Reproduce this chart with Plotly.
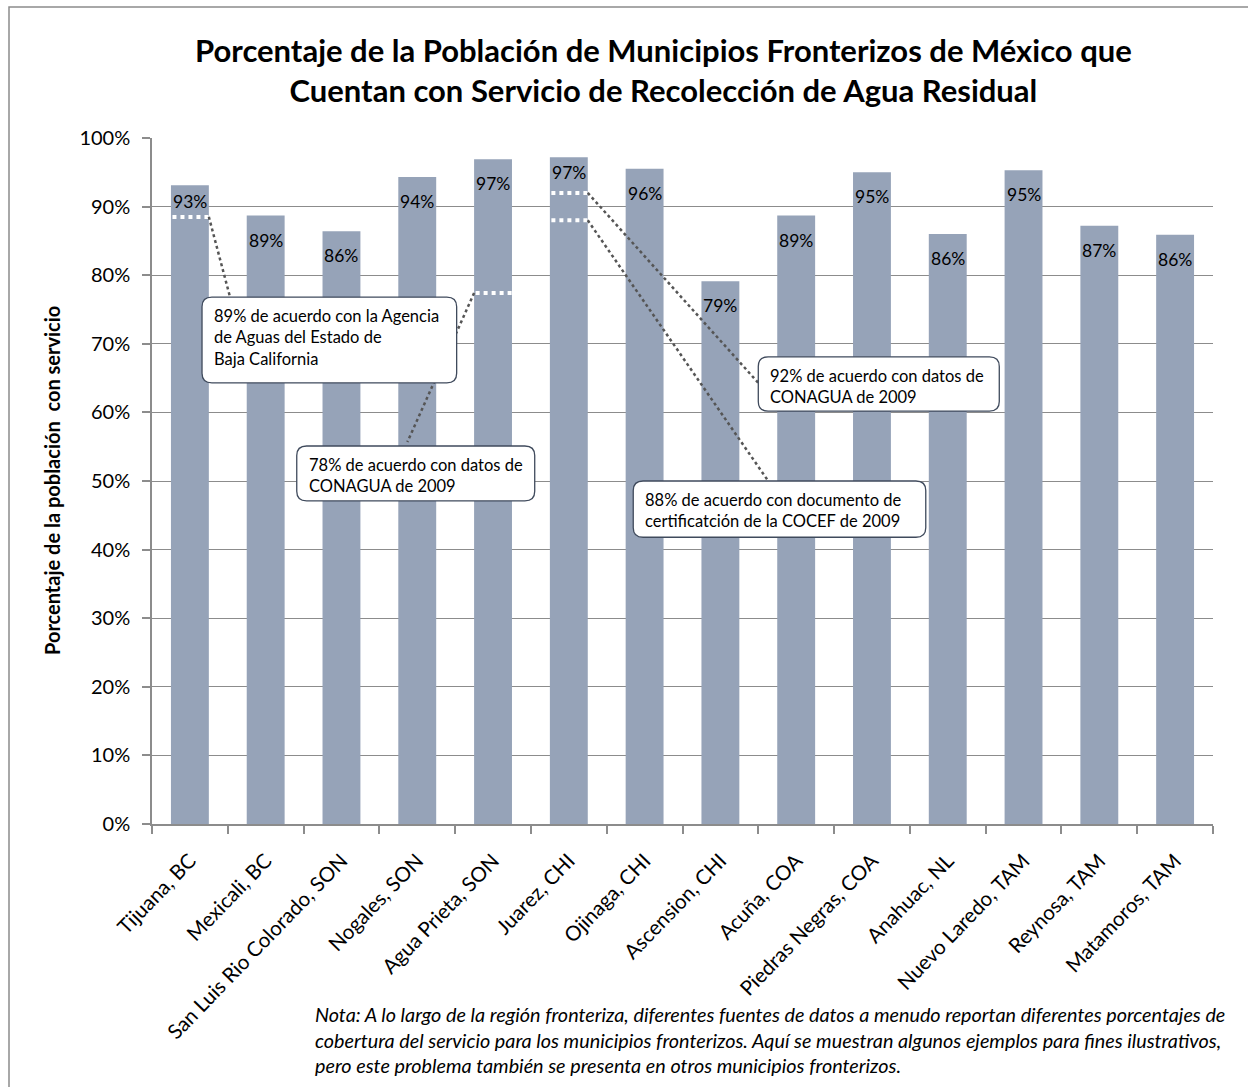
import plotly.graph_objects as go

# ---------------- data ----------------
municipios = ["Tijuana, BC", "Mexicali, BC", "San Luis Rio Colorado, SON", "Nogales, SON",
              "Agua Prieta, SON", "Juarez, CHI", "Ojinaga, CHI", "Ascension, CHI", "Acuña, COA",
              "Piedras Negras, COA", "Anahuac, NL", "Nuevo Laredo, TAM", "Reynosa, TAM",
              "Matamoros, TAM"]
cobertura = [93.1, 88.7, 86.4, 94.3, 96.9, 97.2, 95.5, 79.1, 88.7, 95.0, 86.0, 95.3, 87.2, 85.9]
etiquetas = ["93%", "89%", "86%", "94%", "97%", "97%", "96%", "79%", "89%", "95%", "86%", "95%", "87%", "86%"]

# alternative source values (white dashed markers)
alt_municipio_idx = [0, 4, 5, 5]
alt_valores = [88.5, 77.4, 92.0, 88.0]
alt_textos = [
    "89% de acuerdo con la Agencia<br>de Aguas del Estado de<br>Baja California",
    "78% de acuerdo con datos de<br>CONAGUA de 2009",
    "92% de acuerdo con datos de<br>CONAGUA de 2009",
    "88% de acuerdo con documento de<br>certificatción de la COCEF de 2009",
]
y_ticks = [0, 10, 20, 30, 40, 50, 60, 70, 80, 90, 100]
y_ticktext = [f"{v}%" for v in y_ticks]

# ---------------- layout constants ----------------
BAR_W = 0.5
FONT = "Lato"
BAR_COLOR = "#96a3b8"
GRID = "#8c8c8c"
# pixel offset of value labels below the bar top (two labels were nudged up in the original)
label_shift = [-4, -12, -12, -12, -12, -3, -12, -12, -12, -12, -12, -12, -12, -12]

# callout boxes (x in category units, y in percent): x0, x1, y_top, y_bottom
boxes = [(0.16, 3.52, 76.8, 64.3), (1.41, 4.55, 55.1, 47.1),
         (7.50, 10.68, 68.1, 60.2), (5.85, 9.71, 50.0, 41.8)]
# side of bar where connector starts (+1 right edge, -1 left edge)
sides = [1, -1, 1, 1]
# connector end points on boxes
ends = [(0.53, 76.8), (2.87, 55.7), (7.50, 64.3), (7.65, 49.7)]

x_idx = list(range(len(municipios)))

fig = go.Figure()
fig.add_trace(go.Bar(
    x=x_idx, y=cobertura, width=BAR_W, marker=dict(color=BAR_COLOR, line=dict(width=0)),
    hoverinfo="skip", showlegend=False,
))

shapes = []
annotations = []

# value labels inside the top of each bar
for i, v, t, sh in zip(x_idx, cobertura, etiquetas, label_shift):
    annotations.append(dict(x=i, y=v, xref="x", yref="y", text=t, showarrow=False,
                            xanchor="center", yanchor="top", yshift=sh,
                            font=dict(family=FONT, size=17.5, color="black")))

# white dashed markers on bars
for i, v in zip(alt_municipio_idx, alt_valores):
    shapes.append(dict(type="line", xref="x", yref="y", x0=i - BAR_W / 2 + 0.02, x1=i + BAR_W / 2,
                       y0=v, y1=v, line=dict(color="white", width=4, dash="dot"), layer="above"))

# connectors
for i, v, s, (ex, ey) in zip(alt_municipio_idx, alt_valores, sides, ends):
    shapes.append(dict(type="line", xref="x", yref="y", x0=i + s * BAR_W / 2, y0=v, x1=ex, y1=ey,
                       line=dict(color="#555555", width=2.5, dash="dot"), layer="above"))

# rounded boxes
def rounded(x0, x1, yt, yb, rx=0.13, ry=1.4):
    return (f"M {x0+rx},{yt} L {x1-rx},{yt} Q {x1},{yt} {x1},{yt-ry} "
            f"L {x1},{yb+ry} Q {x1},{yb} {x1-rx},{yb} L {x0+rx},{yb} Q {x0},{yb} {x0},{yb+ry} "
            f"L {x0},{yt-ry} Q {x0},{yt} {x0+rx},{yt} Z")

for (x0, x1, yt, yb), txt in zip(boxes, alt_textos):
    shapes.append(dict(type="path", xref="x", yref="y", path=rounded(x0, x1, yt, yb),
                       fillcolor="white", line=dict(color="#3f4a5c", width=1.3), layer="above"))
    annotations.append(dict(x=x0 + 0.13, y=yt - 1.0, xref="x", yref="y", text=txt, showarrow=False,
                            xanchor="left", yanchor="top", align="left",
                            font=dict(family=FONT, size=16.5, color="black")))

# outer chart border
shapes.append(dict(type="rect", xref="paper", yref="paper",
                   x0=(9 - 152) / 1061, x1=(1300 - 152) / 1061,
                   y0=(824 - 1150) / 686, y1=(824 - 7) / 686,
                   line=dict(color="#8c8c8c", width=1.5), fillcolor="rgba(0,0,0,0)", layer="below"))

# title
annotations.append(dict(
    x=(663 - 152) / 1061, y=(824 - 70) / 686, xref="paper", yref="paper", showarrow=False,
    text="<b>Porcentaje de la Población de Municipios Fronterizos de México que<br>"
         "Cuentan con Servicio de Recolección de Agua Residual</b>",
    font=dict(family=FONT, size=31, color="black"), xanchor="center", yanchor="middle", align="center"))

# y-axis title
annotations.append(dict(
    x=(52 - 152) / 1061, y=0.5, xref="paper", yref="paper", showarrow=False, textangle=-90,
    text="<b>Porcentaje de la población  con servicio</b>",
    font=dict(family=FONT, size=20, color="black"), xanchor="center", yanchor="middle"))

# note
annotations.append(dict(
    x=(313 - 152) / 1061, y=(824 - 1000) / 686, xref="paper", yref="paper", showarrow=False,
    text="<i>Nota: A lo largo de la región fronteriza, diferentes fuentes de datos a menudo reportan diferentes porcentajes de<br>"
         "cobertura del servicio para los municipios fronterizos. Aquí se muestran algunos ejemplos para fines ilustrativos,<br>"
         "pero este problema también se presenta en otros municipios fronterizos.</i>",
    font=dict(family=FONT, size=19.8, color="black"), xanchor="left", yanchor="top", align="left"))

fig.update_layout(
    width=1248, height=1087, autosize=False,
    margin=dict(l=152, r=35, t=138, b=263, autoexpand=False),
    paper_bgcolor="white", plot_bgcolor="white",
    shapes=shapes, annotations=annotations,
    xaxis=dict(range=[-0.5, len(municipios) - 0.5], tickvals=x_idx, ticktext=municipios,
               tickangle=-46, ticks="", showgrid=False, zeroline=False,
               showline=True, linecolor=GRID, linewidth=1.5, ticklabelstandoff=15,
               tickfont=dict(family=FONT, size=20.5, color="black"),
               minor=dict(tickvals=[i - 0.5 for i in range(len(municipios) + 1)], ticks="outside",
                          ticklen=8, tickcolor=GRID, tickwidth=1.5, showgrid=False)),
    yaxis=dict(range=[0, 100], tickvals=y_ticks, ticktext=y_ticktext, ticks="outside", ticklen=8,
               tickcolor=GRID, tickwidth=1.5, showgrid=True, gridcolor=GRID, gridwidth=1.3,
               zeroline=False, showline=True, linecolor=GRID, linewidth=1.5, ticklabelstandoff=8,
               tickfont=dict(family=FONT, size=20, color="black")),
)

fig.write_html("out.html", config={"displayModeBar": False},
               post_script="document.body.style.margin='0';document.body.style.overflow='hidden';")
